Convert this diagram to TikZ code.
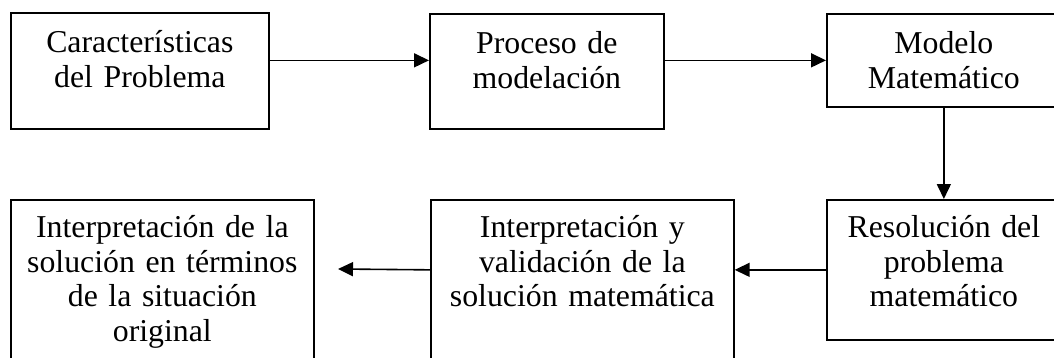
\documentclass[tikz,border=0pt]{standalone}
\usepackage{fontspec}
\setmainfont{Liberation Serif}
\usetikzlibrary{arrows.meta}

\begin{document}
\begin{tikzpicture}[x=0.5pt,y=-0.5pt,
    caja/.style={draw,line width=0.85pt,inner sep=0pt,align=center,anchor=north west,
      font=\fontsize{15.9}{17.2}\selectfont},
    flecha/.style={line width=0.8pt,-{Triangle[length=7.5pt,width=7pt]}}]
      \useasboundingbox (0,0) rectangle (1054,358);
      \node[caja,text width=129pt,text height=20pt,text depth=38pt] (carac) at (10,12) {Características\\del Problema};
      \node[caja,text width=117pt,text height=20pt,text depth=37.5pt] (proceso) at (429,13) {Proceso de\\modelación};
      \node[caja,text width=117pt,text height=20pt,text depth=26.5pt] (modelo) at (826,13) {Modelo\\Matemático};
      \node[caja,text width=117pt,text height=19pt,text depth=51pt] (resol) at (826,199) {Resolución del\\problema\\matemático};
      \node[caja,text width=151.5pt,text height=19pt,text depth=71pt] (valid) at (430,199) {Interpretación y\\validación de la\\solución matemática};
      \node[caja,text width=151.5pt,text height=19pt,text depth=71pt] (interp) at (10,199) {Interpretación de la\\solución en términos\\de la situación\\original};
      \coordinate (fin) at (338,269);
      \draw[flecha] (carac.east |- modelo) -- (proceso.west |- modelo);
      \draw[flecha] (proceso.east |- modelo) -- (modelo.west);
      \draw[flecha] (modelo.south) -- (resol.north);
      \draw[flecha] (resol.west) -- (valid.east |- resol);
      \draw[flecha] (valid.west |- resol) -- (fin);
\end{tikzpicture}
\end{document}
